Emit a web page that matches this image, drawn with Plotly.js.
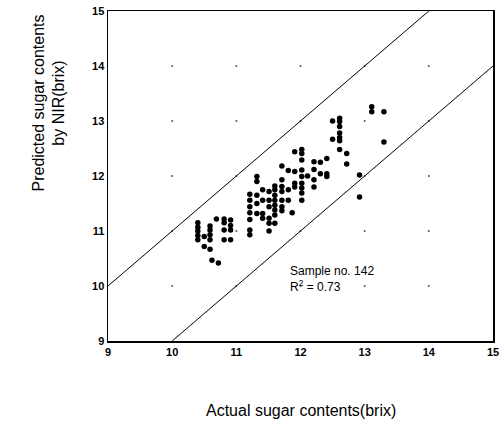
<!DOCTYPE html>
<html><head><meta charset="utf-8">
<script src="https://cdn.plot.ly/plotly-3.0.1.min.js"></script>
<style>html,body{margin:0;padding:0;background:#fff}#chart{width:501px;height:422px}</style>
</head><body><div id="chart"></div>
<script>
const xTicks = [9, 10, 11, 12, 13, 14, 15];
const yTicks = [9, 10, 11, 12, 13, 14, 15];

const actual = [
 10.40,10.40,10.40,10.40,10.40,
 10.50,10.50,
 10.59,10.59,10.59,10.59,10.59,
 10.62,10.72,10.69,
 10.81,10.81,10.81,10.81,
 10.91,10.91,10.91,10.91,
 11.21,11.21,11.21,11.21,11.21,11.21,11.21,
 11.32,11.32,11.32,11.32,11.32,
 11.41,11.41,11.41,11.41,
 11.51,11.51,11.51,11.51,11.51,11.51,
 11.60,11.60,11.60,11.60,11.60,11.60,11.60,11.60,
 11.71,11.71,11.71,11.71,11.71,11.71,11.71,
 11.81,11.81,11.81,
 11.87,
 11.91,11.91,11.91,11.91,
 12.02,12.02,12.02,12.02,12.02,12.02,12.02,12.02,12.02,
 12.11,
 12.21,12.21,12.21,12.21,
 12.31,12.31,
 12.41,12.41,12.41,
 12.50,12.50,
 12.61,12.61,12.61,12.61,12.61,12.61,12.61,
 12.72,12.72,
 12.92,12.92,
 13.11,13.11,
 13.30,13.30
];
const predicted = [
 11.15,11.07,11.00,10.92,10.84,
 10.90,10.72,
 11.09,11.02,10.93,10.84,10.67,
 10.47,10.42,11.22,
 11.22,11.15,11.02,10.84,
 11.20,11.10,11.02,10.84,
 11.67,11.56,11.44,11.33,11.21,11.02,10.93,
 11.99,11.90,11.65,11.50,11.32,
 11.75,11.56,11.32,11.23,
 11.72,11.56,11.44,11.23,11.14,11.00,
 11.82,11.75,11.65,11.56,11.47,11.38,11.29,11.14,
 12.18,11.93,11.81,11.72,11.56,11.44,11.37,
 12.10,11.75,11.56,
 11.33,
 12.44,12.08,11.87,11.80,
 12.48,12.41,12.29,12.11,11.99,11.87,11.78,11.69,11.56,
 12.00,
 12.26,12.12,11.93,11.80,
 12.25,12.04,
 12.32,12.04,11.99,
 13.00,12.67,
 13.05,12.99,12.90,12.78,12.70,12.64,12.48,
 12.41,12.22,
 12.02,11.62,
 13.26,13.17,
 13.17,12.62
];

const upperX = [9, 14], upperY = [10, 15];
const lowerX = [10, 15], lowerY = [9, 14];

const gx = [], gy = [];
xTicks.slice(1, -1).forEach(x => yTicks.slice(1, -1).forEach(y => { gx.push(x); gy.push(y); }));

const font = 'Liberation Sans, Arial, sans-serif';
const data = [
 {x: gx, y: gy, mode: 'markers', type: 'scatter', marker: {size: 2, color: '#555'}, hoverinfo: 'skip'},
 {x: upperX, y: upperY, mode: 'lines', type: 'scatter', line: {color: '#000', width: 1}},
 {x: lowerX, y: lowerY, mode: 'lines', type: 'scatter', line: {color: '#000', width: 1}},
 {x: actual, y: predicted, mode: 'markers', type: 'scatter', marker: {size: 5.5, color: '#000'}}
];
const axisBase = {
 showgrid: false, zeroline: false, showline: true, mirror: true,
 linecolor: '#000', linewidth: 1.5, ticks: '',
 tickfont: {family: font, size: 11, color: '#000', weight: 'bold'}
};
const layout = {
 width: 501, height: 422, showlegend: false,
 paper_bgcolor: '#fff', plot_bgcolor: '#fff',
 margin: {l: 108, r: 8, t: 11, b: 81},
 xaxis: Object.assign({}, axisBase, {range: [9, 15], tickvals: xTicks, ticktext: xTicks.map(String)}),
 yaxis: Object.assign({}, axisBase, {range: [9, 15], tickvals: yTicks, ticktext: yTicks.map(String)}),
 annotations: [
  {xref: 'paper', yref: 'paper', x: 0.5, y: -0.21, yanchor: 'middle', showarrow: false,
   text: 'Actual sugar contents(brix)', font: {family: font, size: 16, color: '#000'}},
  {xref: 'paper', yref: 'paper', x: -0.153, y: 0.72, xanchor: 'center', yanchor: 'middle', textangle: -90, showarrow: false,
   text: 'Predicted sugar contents<br>by NIR(brix)', font: {family: font, size: 16, color: '#000'}},
  {xref: 'x', yref: 'y', x: 11.8, y: 10.44, xanchor: 'left', yanchor: 'top', align: 'left', showarrow: false,
   text: 'Sample no. 142<br>R<sup>2</sup> = 0.73', font: {family: font, size: 12, color: '#000'}}
 ]
};
Plotly.newPlot('chart', data, layout, {displayModeBar: false, staticPlot: true});
</script></body></html>
